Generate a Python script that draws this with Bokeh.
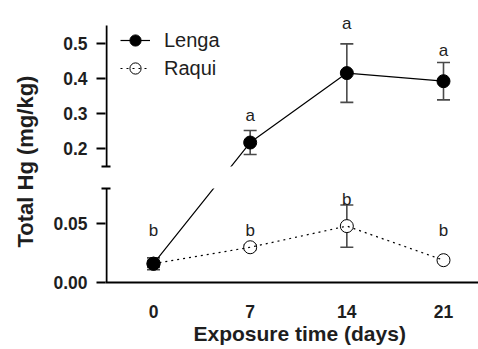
from bokeh.plotting import figure
from bokeh.models import (ColumnDataSource, Range1d, FixedTicker, CustomJSTransform,
                          Whisker, TeeHead, Legend, LegendItem, Title)
from bokeh.transform import transform
from bokeh.core.properties import value
from bokeh.embed import file_html
from bokeh.resources import INLINE

# ---------------- data ----------------
days = [0, 7, 14, 21]
lenga_mean = [0.016, 0.218, 0.415, 0.392]
lenga_err = [0.005, 0.034, 0.083, 0.053]
raqui_mean = [0.016, 0.030, 0.048, 0.019]
raqui_err = [0.003, 0.002, 0.018, 0.002]
lenga_letters = ["", "a", "a", "a"]
raqui_letters = ["b", "b", "b", "b"]
lenga_letter_y = [0.016, 0.295, 0.555, 0.479]
raqui_letter_y = [0.044, 0.044, 0.071, 0.044]

y_ticks = [0.0, 0.05, 0.2, 0.3, 0.4, 0.5]
y_tick_labels = ["0.00", "0.05", "0.2", "0.3", "0.4", "0.5"]
x_ticks = [0, 7, 14, 21]

# ---------------- broken y axis geometry ----------------
LOW_TOP, UP_BOT, UP_TOP = 0.08, 0.15, 0.55
H_LOW, H_GAP, H_UP = 94, 22, 141


def brk(v):
    if v <= (LOW_TOP + UP_BOT) / 2:
        return v / LOW_TOP * H_LOW
    return H_LOW + H_GAP + (v - UP_BOT) / (UP_TOP - UP_BOT) * H_UP


tf = CustomJSTransform(
    args=dict(lt=LOW_TOP, ub=UP_BOT, ut=UP_TOP, hl=H_LOW, hg=H_GAP, hu=H_UP),
    v_func="""
const out = new Float64Array(xs.length)
for (let i = 0; i < xs.length; i++) {
  const v = xs[i]
  out[i] = v <= (lt + ub) / 2 ? v / lt * hl : hl + hg + (v - ub) / (ut - ub) * hu
}
return out
""")

FONT = "Liberation Sans"
TXT = "#1e1e1e"
W, H = 478, 349
FL, FT, FB = 105, 10, 282          # frame left/top/bottom inside the figure
PX_DAY = 290 / 21
x_start = -48 / PX_DAY
x_end = x_start + (W - FL) / PX_DAY

p = figure(width=W, height=H, output_backend="svg", toolbar_location=None,
           x_range=Range1d(x_start, x_end), y_range=Range1d(0, FB - FT),
           min_border_left=FL, min_border_right=0, min_border_top=FT,
           min_border_bottom=H - FB)
p.outline_line_color = None
p.grid.visible = False
p.background_fill_color = "white"
p.border_fill_color = "white"

src_l = ColumnDataSource(dict(x=days, y=lenga_mean,
                              lo=[m - e for m, e in zip(lenga_mean, lenga_err)],
                              hi=[m + e for m, e in zip(lenga_mean, lenga_err)],
                              lab=lenga_letters, ly=lenga_letter_y))
src_r = ColumnDataSource(dict(x=days, y=raqui_mean,
                              lo=[m - e for m, e in zip(raqui_mean, raqui_err)],
                              hi=[m + e for m, e in zip(raqui_mean, raqui_err)],
                              lab=raqui_letters, ly=raqui_letter_y))

ERR = "#4a4a4a"
for src in (src_l, src_r):
    p.add_layout(Whisker(base="x", upper=transform("hi", tf), lower=transform("lo", tf),
                         source=src, line_color=ERR, line_width=1.6,
                         upper_head=TeeHead(size=13, line_color=ERR, line_width=1.6),
                         lower_head=TeeHead(size=13, line_color=ERR, line_width=1.6)))

r_sc = p.scatter("x", transform("y", tf), source=src_r, size=13, marker="circle",
                 fill_color="white", line_color="black", line_width=1)
l_sc = p.scatter("x", transform("y", tf), source=src_l, size=13, marker="circle",
                 fill_color="black", line_color="black", line_width=1)
l_ln = p.line("x", transform("y", tf), source=src_l, line_color="black", line_width=1.2)

# white band hiding the segment crossing the axis break
p.quad(left=x_start, right=x_end, bottom=brk(LOW_TOP), top=brk(UP_BOT),
       fill_color="white", line_color=None)

r_ln = p.line("x", transform("y", tf), source=src_r, line_color="black",
              line_width=1.2, line_dash="2 4")

# y axis line in two pieces
ax_x = x_start + 1 / PX_DAY
p.segment(x0=[ax_x, ax_x], x1=[ax_x, ax_x], y0=[brk(0.0), brk(UP_BOT)],
          y1=[brk(LOW_TOP), brk(UP_TOP)], line_color="black", line_width=2)

for src in (src_l, src_r):
    p.text("x", transform("ly", tf), text="lab", source=src, text_align="center",
           text_baseline="alphabetic", text_font=value(FONT), text_font_size="17px",
           text_color=TXT)

# axes
ya = p.yaxis[0]
ya.ticker = FixedTicker(ticks=[brk(t) for t in y_ticks],
                        minor_ticks=[brk(LOW_TOP), brk(UP_BOT)])
ya.major_label_overrides = {brk(t): s for t, s in zip(y_ticks, y_tick_labels)}
ya.axis_line_color = None
ya.major_tick_out = 9
ya.major_tick_in = 0
ya.major_tick_line_width = 2
ya.major_tick_line_color = "black"
ya.minor_tick_out = 4
ya.minor_tick_in = 5
ya.minor_tick_line_width = 2
ya.minor_tick_line_color = "black"
ya.major_label_standoff = 9
ya.major_label_text_font = FONT
ya.major_label_text_font_style = "bold"
ya.major_label_text_font_size = "17.5px"
ya.major_label_text_color = TXT

xa = p.xaxis[0]
xa.ticker = FixedTicker(ticks=x_ticks)
xa.axis_line_width = 2
xa.axis_line_color = "black"
xa.major_tick_out = 0
xa.major_tick_in = 0
xa.minor_tick_out = 0
xa.minor_tick_in = 0
xa.major_label_standoff = 22
xa.major_label_text_font = FONT
xa.major_label_text_font_style = "bold"
xa.major_label_text_font_size = "17.5px"
xa.major_label_text_color = TXT

p.add_layout(Title(text="Exposure time (days)", align="left", offset=88,
                   vertical_align="top",
                   text_font=FONT, text_font_style="bold", text_font_size="21px",
                   text_color=TXT, standoff=2), "below")
p.add_layout(Title(text="Total Hg (mg/kg)", align="left", offset=35,
                   vertical_align="top",
                   text_font=FONT, text_font_style="bold", text_font_size="22px",
                   text_color=TXT, standoff=21), "left")

legend = Legend(items=[LegendItem(label="Lenga", renderers=[l_ln, l_sc]),
                       LegendItem(label="Raqui", renderers=[r_sc, r_ln])],
                location=(15, 200), padding=0, margin=0, spacing=0,
                glyph_width=30, glyph_height=28, label_height=28,
                label_standoff=14, border_line_color=None,
                background_fill_alpha=0,
                label_text_font=FONT, label_text_font_size="20px",
                label_text_color=TXT)
p.add_layout(legend)

open("out.html", "w").write(file_html(p, INLINE))
